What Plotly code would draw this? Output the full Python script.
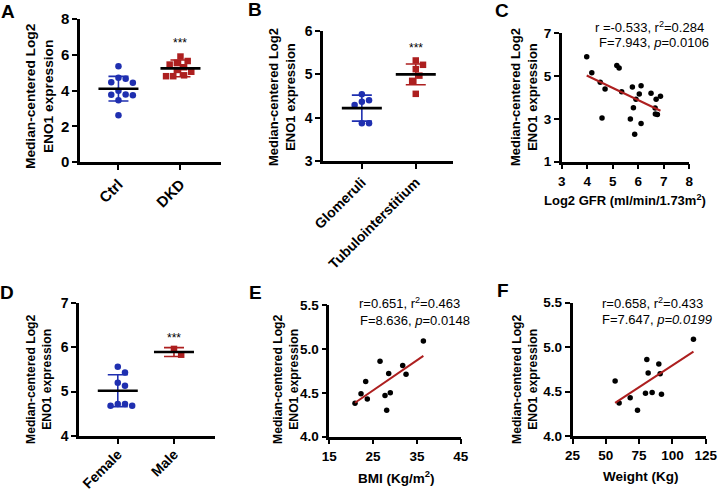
import numpy as np
import plotly.graph_objects as go

W, H = 720, 490

# ---------------- data ----------------
a_cats = ["Ctrl", "DKD"]
a_ctrl = [5.35, 4.72, 4.66, 4.46, 4.44, 3.98, 3.78, 3.76, 3.74, 3.46, 2.62]
a_dkd = [5.90, 5.65, 5.55, 5.45, 5.30, 5.15, 5.05, 4.85, 4.80, 4.80]
a_mean = [4.10, 5.24]
a_sd = [0.69, 0.47]

b_cats = ["Glomeruli", "Tubulointerstitium"]
b_glom = [4.54, 4.40, 4.37, 4.29, 3.87, 3.87]
b_tub = [5.32, 5.22, 5.12, 4.97, 4.85, 4.55]
b_mean = [4.22, 5.00]
b_sd = [0.30, 0.24]

d_cats = ["Female", "Male"]
d_fem = [5.56, 5.43, 5.20, 5.13, 4.72, 4.68, 4.68, 4.72]
d_male = [5.96, 5.83]
d_mean = [5.02, 5.89]
d_sd = [0.36, 0.10]

c_gfr = [3.98, 4.18, 4.51, 4.70, 4.58, 5.16, 5.25, 5.35, 5.77, 5.81, 5.69,
         5.86, 5.91, 6.04, 6.11, 6.11, 6.50, 6.70, 6.66, 6.87, 6.67, 6.75]
c_eno = [5.91, 5.16, 4.71, 4.40, 3.04, 5.50, 5.38, 4.27, 4.49, 3.52, 2.99,
         2.28, 3.92, 4.16, 4.55, 2.79, 4.20, 3.92, 3.51, 4.06, 3.23, 3.20]

e_bmi = [20.87, 22.24, 23.31, 23.68, 26.58, 27.72, 28.56, 28.93, 28.10, 31.76, 32.52, 36.48]
e_eno = [4.38, 4.49, 4.63, 4.43, 4.86, 4.47, 4.72, 4.50, 4.30, 4.81, 4.71, 5.09]

f_wt = [57.0, 60.0, 68.3, 73.8, 79.8, 80.8, 81.8, 84.8, 89.8, 90.8, 91.8, 115.8]
f_eno = [4.62, 4.37, 4.43, 4.29, 4.48, 4.86, 4.71, 4.49, 4.81, 4.70, 4.47, 5.09]

c_stats = ["r =-0.533, r<sup>2</sup>=0.284", "F=7.943, <i>p</i>=0.0106"]
e_stats = ["r=0.651, r<sup>2</sup>=0.463", "F=8.636, <i>p</i>=0.0148"]
f_stats = ["r=0.658, r<sup>2</sup>=0.433", "F=7.647, <i>p=0.0199</i>"]

YTITLE = "Median-centered Log2<br>ENO1 expression"

# ---------------- style ----------------
BLUE = "#1f2fb0"
RED = "#ad1f1f"
FONT = "Arial, Liberation Sans, sans-serif"

fig = go.Figure()

panels = {
    # name: (left, right, top, bottom) in px, xrange, yrange
    "A": dict(px=(80, 221.4, 19, 162), xr=[-0.62, 1.66], yr=[0, 8], ydt=2, fs=15),
    "B": dict(px=(323, 453, 31, 161), xr=[-0.72, 1.69], yr=[3, 6], ydt=1, fs=14),
    "C": dict(px=(561.7, 689.3, 33.3, 161.7), xr=[3, 8], yr=[1, 7], ydt=2, xdt=1, fs=13.5),
    "D": dict(px=(79, 215, 302.7, 436), xr=[-0.69, 1.73], yr=[4, 7], ydt=1, fs=14),
    "E": dict(px=(329.3, 460.7, 305, 436.7), xr=[15, 45], yr=[4, 5.5], ydt=0.5, xdt=10, fs=13.5),
    "F": dict(px=(572.5, 705.7, 302.7, 436), xr=[25, 125], yr=[4, 5.5], ydt=0.5, xdt=25, fs=13.5),
}
names = ["A", "B", "C", "D", "E", "F"]
axmap = {n: (i + 1) for i, n in enumerate(names)}


def xa(n):
    i = axmap[n]
    return "x" if i == 1 else f"x{i}"


def ya(n):
    i = axmap[n]
    return "y" if i == 1 else f"y{i}"


def scale(n):
    p = panels[n]
    l, r, t, b = p["px"]
    sx = (r - l) / (p["xr"][1] - p["xr"][0])
    sy = (b - t) / (p["yr"][1] - p["yr"][0])
    return sx, sy


def swarm_offsets(vals, sy, d):
    vals = np.asarray(vals, float)
    order = np.argsort(-vals)
    placed = []
    offs = np.zeros(len(vals))
    step = d * 0.5
    for i in order:
        y = vals[i] * sy
        k = 0
        while True:
            c = ((k + 1) // 2) * step * (1 if k % 2 == 1 else -1)
            if all((c - xo) ** 2 + (y - yo) ** 2 >= (d * 0.98) ** 2 for xo, yo in placed):
                break
            k += 1
        offs[i] = c
        placed.append((c, y))
    return offs


def dot_panel(n, groups, means, sds, cats):
    sx, sy = scale(n)
    d = 7.2
    styles = [dict(symbol="circle", color=BLUE), dict(symbol="square", color=RED)]
    for gi, vals in enumerate(groups):
        offs = swarm_offsets(vals, sy, d) / sx
        fig.add_trace(go.Scatter(
            x=gi + offs, y=vals, mode="markers", xaxis=xa(n), yaxis=ya(n),
            marker=dict(size=6.5, line=dict(width=0), **styles[gi]), cliponaxis=False))
    for gi in range(len(groups)):
        col = styles[gi]["color"]
        fig.add_trace(go.Scatter(
            x=[gi], y=[means[gi]], mode="markers", xaxis=xa(n), yaxis=ya(n),
            marker=dict(size=1, color="rgba(0,0,0,0)"),
            error_y=dict(type="data", array=[sds[gi]], visible=True, color=col,
                         thickness=1.6, width=10), cliponaxis=False))
        hw = 20 / sx
        fig.add_trace(go.Scatter(
            x=[gi - hw, gi + hw], y=[means[gi], means[gi]], mode="lines",
            xaxis=xa(n), yaxis=ya(n), line=dict(color="black", width=2.6),
            cliponaxis=False))


def reg_panel(n, xs, ys):
    xs = np.asarray(xs, float)
    ys = np.asarray(ys, float)
    fig.add_trace(go.Scatter(
        x=xs, y=ys, mode="markers", xaxis=xa(n), yaxis=ya(n),
        marker=dict(size=5.5, color="black"), cliponaxis=False))
    m, c = np.polyfit(xs, ys, 1)
    lx = np.array([xs.min(), xs.max()])
    fig.add_trace(go.Scatter(
        x=lx, y=m * lx + c, mode="lines", xaxis=xa(n), yaxis=ya(n),
        line=dict(color=RED, width=2), cliponaxis=False))


dot_panel("A", [a_ctrl, a_dkd], a_mean, a_sd, a_cats)
dot_panel("B", [b_glom, b_tub], b_mean, b_sd, b_cats)
dot_panel("D", [d_fem, d_male], d_mean, d_sd, d_cats)
reg_panel("C", c_gfr, c_eno)
reg_panel("E", e_bmi, e_eno)
reg_panel("F", f_wt, f_eno)

layout = dict(width=W, height=H, margin=dict(l=0, r=0, t=0, b=0, autoexpand=False),
              paper_bgcolor="white", plot_bgcolor="white", showlegend=False,
              font=dict(family=FONT, color="black"))

catlabels = {"A": a_cats, "B": b_cats, "D": d_cats}
for n in names:
    p = panels[n]
    l, r, t, b = p["px"]
    i = axmap[n]
    tf = dict(family=FONT, size=p["fs"], color="black", weight="bold")
    common = dict(showline=True, linewidth=2.5, linecolor="black", ticks="outside",
                  ticklen=5, tickwidth=2, tickcolor="black", showgrid=False,
                  zeroline=False, tickfont=tf, fixedrange=True, automargin=False)
    xd = dict(domain=[l / W, r / W], range=p["xr"], anchor=ya(n), **common)
    if n in catlabels:
        xd.update(tickmode="array", tickvals=list(range(len(catlabels[n]))),
                  ticktext=catlabels[n], tickangle=-45)
        if n == "D":
            xd.update(ticklabelstandoff=-3)
    else:
        xd.update(tickmode="linear", tick0=p["xr"][0], dtick=p["xdt"])
    yd = dict(domain=[1 - b / H, 1 - t / H], range=p["yr"], anchor=xa(n),
              tickmode="linear", tick0=p["yr"][0], dtick=p["ydt"], **common)
    if n in ("E", "F"):
        yd.update(tickformat=".1f")
    layout["xaxis" if i == 1 else f"xaxis{i}"] = xd
    layout["yaxis" if i == 1 else f"yaxis{i}"] = yd

ann = []


def A(x, y, text, size, bold=False, angle=0, xanchor="center", yanchor="middle"):
    ann.append(dict(x=x / W, y=1 - y / H, xref="paper", yref="paper", text=text,
                    showarrow=False, textangle=angle, xanchor=xanchor, yanchor=yanchor,
                    font=dict(family=FONT, size=size, color="black",
                              weight="bold" if bold else "normal")))


# panel letters
for letter, (x, y) in {"A": (8, 12), "B": (255, 9), "C": (502, 10), "D": (7, 292),
                       "E": (255, 292), "F": (503, 290)}.items():
    A(x, y, letter, 19, bold=True)

# y-axis titles
A(39, 96, YTITLE, 13.7, bold=True, angle=-90)
A(282, 97, YTITLE, 13, bold=True, angle=-90)
A(524, 97, YTITLE, 13, bold=True, angle=-90)
A(39, 379, YTITLE, 12.2, bold=True, angle=-90)
A(286, 379, YTITLE, 12.2, bold=True, angle=-90)
A(525, 379, YTITLE, 12.2, bold=True, angle=-90)

# x-axis titles
A(625, 200, "Log2 GFR (ml/min/1.73m<sup>2</sup>)", 13, bold=True)
A(396, 477, "BMI (Kg/m<sup>2</sup>)", 13.5, bold=True)
A(640, 476, "Weight (Kg)", 13.5, bold=True)

# significance marks
A(180, 43, "***", 12)
A(416, 48, "***", 12)
A(174, 338, "***", 12)

# stats text
A(593, 27, c_stats[0], 13, xanchor="left")
A(597, 42, c_stats[1], 13, xanchor="left")
A(357, 303, e_stats[0], 13, xanchor="left")
A(358, 320, e_stats[1], 13, xanchor="left")
A(600, 303, f_stats[0], 13, xanchor="left")
A(600, 319, f_stats[1], 13, xanchor="left")

layout["annotations"] = ann
fig.update_layout(**layout)
fig.write_html("out.html", config={"displayModeBar": False},
               post_script="document.body.style.margin='0';document.body.style.padding='0';")
